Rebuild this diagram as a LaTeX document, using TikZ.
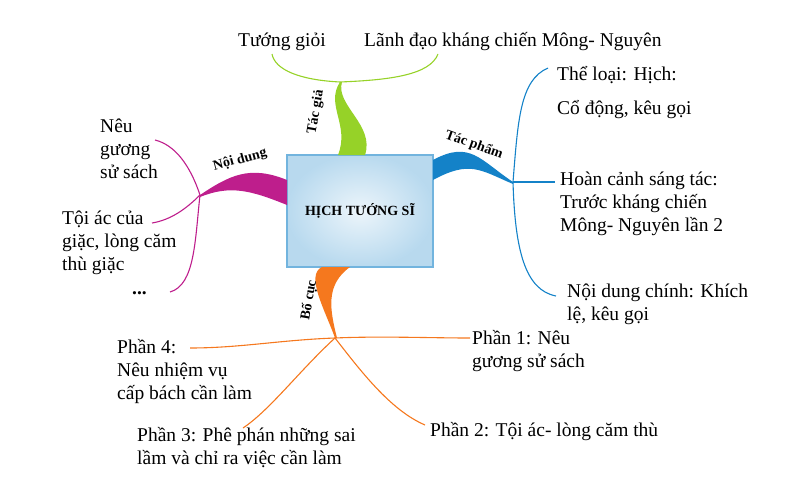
\documentclass[tikz,border=0pt]{standalone}
\usepackage{fontspec}
\setmainfont{Liberation Serif}
\begin{document}
\begin{tikzpicture}[x=1pt,y=-1pt,
  txt/.style={font=\fontsize{19.5}{23}\selectfont,align=left,inner sep=0pt,anchor=west},
  blbl/.style={font=\bfseries\fontsize{14}{15}\selectfont,inner sep=0pt},
  thin/.style={line width=1.1pt}]
\definecolor{kgreen}{RGB}{150,210,40}
\definecolor{kblue}{RGB}{20,130,200}
\definecolor{kmag}{RGB}{190,30,140}
\definecolor{korange}{RGB}{245,120,30}
\useasboundingbox (0,0) rectangle (797,495);
% central box
\node[draw=kblue!60,line width=1.5pt,inner color=kblue!8,outer color=kblue!30,minimum width=146pt,minimum height=112pt,font=\bfseries\fontsize{14}{15}\selectfont] (c) at (360,211) {HỊCH TƯỚNG SĨ};
\coordinate (hg) at (340,82);
\coordinate (hb) at (513,182);
\coordinate (hm) at (200,195);
\coordinate (ho) at (335,338);
% tapered main branches
\fill[kgreen] (338,155) .. controls (350,125) and (325,105) .. (hg) -- (342,82) .. controls (335,105) and (375,125) .. (365,155) -- cycle;
\fill[kblue] (433,160) .. controls (470,140) and (480,160) .. (hb) -- (513,184) .. controls (480,170) and (470,160) .. (433,180) -- cycle;
\fill[kmag] (287,180) .. controls (250,165) and (230,175) .. (hm) -- (200,197) .. controls (230,185) and (250,190) .. (287,205) -- cycle;
\fill[korange] (322,267) .. controls (305,275) and (325,310) .. (ho) -- (337,338) .. controls (330,310) and (325,285) .. (350,267) -- cycle;
% branch labels
\node[blbl,rotate=80] (lg) at (316,112) {Tác giả};
\node[blbl,rotate=-20] (lb) at (474,145) {Tác phẩm};
\node[blbl,rotate=15] (lm) at (240,160) {Nội dung};
\node[blbl,rotate=80] (lo) at (309,300) {Bố cục};
% texts
\node[txt] (g1) at (238,42) {Tướng giỏi};
\node[txt] (g2) at (364,42) {Lãnh đạo kháng chiến Mông- Nguyên};
\node[txt] (b1) at (557,75) {Thể loại: Hịch:};
\node[txt] (b1b) at (557,110) {Cổ động, kêu gọi};
\node[txt] (b2) at (560,204) {Hoàn cảnh sáng tác:\\Trước kháng chiến\\Mông- Nguyên lần 2};
\node[txt] (b3) at (567,304) {Nội dung chính: Khích\\lệ, kêu gọi};
\node[txt] (m1) at (100,149) {Nêu\\gương\\sử sách};
\node[txt] (m2) at (62,243) {Tội ác của\\giặc, lòng căm\\thù giặc};
\node[txt] (m3) at (132,293) {\textbf{...}};
\node[txt] (o4) at (117,372) {Phần 4:\\Nêu nhiệm vụ\\cấp bách cần làm};
\node[txt] (o1) at (472,351) {Phần 1: Nêu\\gương sử sách};
\node[txt] (o3) at (137,448) {Phần 3: Phê phán những sai\\lầm và chỉ ra việc cần làm};
\node[txt] (o2) at (430,432) {Phần 2: Tội ác- lòng căm thù};
% thin branches
\draw[kgreen,thin] (hg) .. controls (300,80) and (275,70) .. (272,54);
\draw[kgreen,thin] (hg) .. controls (390,80) and (430,75) .. (438,54);
\draw[kblue,thin] (hb) .. controls (518,120) and (520,80) .. (548,68);
\draw[kblue,thin] (hb) -- (555,182);
\draw[kblue,thin] (hb) .. controls (515,250) and (525,290) .. (556,296);
\draw[kmag,thin] (hm) .. controls (190,165) and (175,145) .. (155,140);
\draw[kmag,thin] (hm) .. controls (185,210) and (170,220) .. (152,223);
\draw[kmag,thin] (hm) .. controls (195,240) and (195,285) .. (170,292);
\draw[korange,thin] (ho) .. controls (280,340) and (240,348) .. (190,348);
\draw[korange,thin] (ho) .. controls (300,370) and (270,410) .. (243,428);
\draw[korange,thin] (ho) .. controls (380,336) and (430,338) .. (470,338);
\draw[korange,thin] (ho) .. controls (360,370) and (390,410) .. (425,425);
\end{tikzpicture}
\end{document}
